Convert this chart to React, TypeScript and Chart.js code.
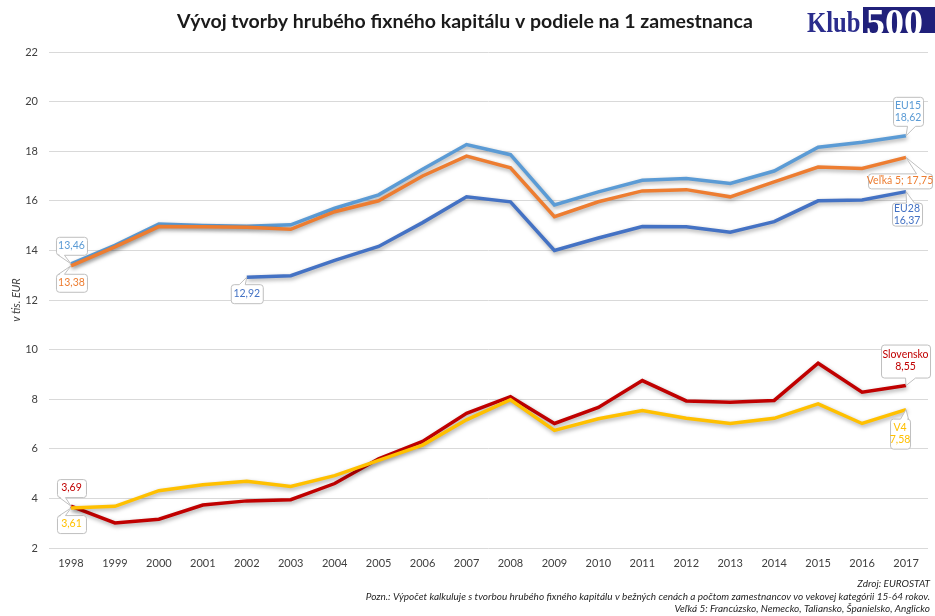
import React, { useEffect, useRef } from "react";
import { Chart, registerables } from "chart.js";

Chart.register(...registerables);

const years = ["1998","1999","2000","2001","2002","2003","2004","2005","2006","2007","2008","2009","2010","2011","2012","2013","2014","2015","2016","2017"];
const eu15 = [13.46,14.2,15.06,15.0,14.97,15.03,15.7,16.24,17.27,18.27,17.86,15.83,16.36,16.83,16.9,16.7,17.2,18.16,18.36,18.62];
const velka5 = [13.38,14.14,14.96,14.95,14.93,14.85,15.56,16.0,17.0,17.8,17.33,15.36,15.96,16.4,16.45,16.16,16.76,17.36,17.3,17.75];
const eu28 = [null,null,null,null,12.92,12.98,13.6,14.16,15.12,16.16,15.96,14.0,14.5,14.96,14.95,14.73,15.16,16.0,16.03,16.37];
const slovensko = [3.69,3.01,3.16,3.73,3.9,3.95,4.6,5.6,6.3,7.43,8.1,7.02,7.67,8.75,7.93,7.88,7.95,9.45,8.28,8.55];
const v4 = [3.61,3.68,4.31,4.55,4.69,4.48,4.92,5.53,6.15,7.17,7.98,6.74,7.21,7.54,7.23,7.02,7.23,7.81,7.02,7.58];

const title = "Vývoj tvorby hrubého fixného kapitálu v podiele na 1 zamestnanca";
const yTitle = "v tis. EUR";
const notes = [
  "Zdroj: EUROSTAT",
  "Pozn.: Výpočet kalkuluje s tvorbou hrubého fixného kapitálu v bežných cenách a počtom zamestnancov vo vekovej kategórii 15-64 rokov.",
  "Veľká 5: Francúzsko, Nemecko, Taliansko, Španielsko, Anglicko",
];

const C_EU15 = "#5B9BD5";
const C_V5 = "#ED7D31";
const C_EU28 = "#4472C4";
const C_SK = "#C00000";
const C_V4 = "#FFC000";

const fmt = (v: number) => v.toFixed(2).replace(".", ",");

type Callout = { ds: string; idx: number; lines: string[]; color: string; dx1: number; dx2: number; dy1: number; dy2: number; side: "top" | "bottom"; t1: number; t2: number };
const callouts: Callout[] = [
  { ds: "EU15", idx: 0, lines: [fmt(eu15[0])], color: C_EU15, dx1: -15, dx2: 16, dy1: -27, dy2: -9, side: "bottom", t1: 2, t2: 8 },
  { ds: "Veľká 5", idx: 0, lines: [fmt(velka5[0])], color: C_V5, dx1: -15, dx2: 16, dy1: 8, dy2: 26, side: "top", t1: 2, t2: 8 },
  { ds: "EU28", idx: 4, lines: [fmt(eu28[4] as number)], color: C_EU28, dx1: -16, dx2: 16, dy1: 7, dy2: 26, side: "top", t1: 8, t2: 14 },
  { ds: "EU15", idx: 19, lines: ["EU15", fmt(eu15[19])], color: C_EU15, dx1: -13, dx2: 17, dy1: -39, dy2: -10, side: "bottom", t1: 14, t2: 22 },
  { ds: "Veľká 5", idx: 19, lines: ["Veľká 5; " + fmt(velka5[19])], color: C_V5, dx1: -38, dx2: 26, dy1: 16, dy2: 31, side: "top", t1: 48, t2: 58 },
  { ds: "EU28", idx: 19, lines: ["EU28", fmt(eu28[19] as number)], color: C_EU28, dx1: -14, dx2: 16, dy1: 11, dy2: 34, side: "top", t1: 14, t2: 22 },
  { ds: "Slovensko", idx: 19, lines: ["Slovensko", fmt(slovensko[19])], color: C_SK, dx1: -25, dx2: 24, dy1: -41, dy2: -8, side: "bottom", t1: 24, t2: 34 },
  { ds: "V4", idx: 19, lines: ["V4", fmt(v4[19])], color: C_V4, dx1: -16, dx2: 4, dy1: 9, dy2: 39, side: "top", t1: 10, t2: 18 },
  { ds: "Slovensko", idx: 0, lines: [fmt(slovensko[0])], color: C_SK, dx1: -14, dx2: 15, dy1: -27, dy2: -9, side: "bottom", t1: 2, t2: 8 },
  { ds: "V4", idx: 0, lines: [fmt(v4[0])], color: C_V4, dx1: -14, dx2: 15, dy1: 7, dy2: 25, side: "top", t1: 2, t2: 8 },
];

const FONT = "Lato, 'Open Sans', sans-serif";

function calloutPath(ctx: CanvasRenderingContext2D, x1: number, y1: number, x2: number, y2: number, r: number, side: string, t1: number, t2: number, px: number, py: number) {
  ctx.beginPath();
  ctx.moveTo(x1 + r, y1);
  if (side === "top") {
    ctx.lineTo(x1 + t1, y1);
    ctx.lineTo(px, py);
    ctx.lineTo(x1 + t2, y1);
  }
  ctx.lineTo(x2 - r, y1);
  ctx.arcTo(x2, y1, x2, y1 + r, r);
  ctx.lineTo(x2, y2 - r);
  ctx.arcTo(x2, y2, x2 - r, y2, r);
  if (side === "bottom") {
    ctx.lineTo(x1 + t2, y2);
    ctx.lineTo(px, py);
    ctx.lineTo(x1 + t1, y2);
  }
  ctx.lineTo(x1 + r, y2);
  ctx.arcTo(x1, y2, x1, y2 - r, r);
  ctx.lineTo(x1, y1 + r);
  ctx.arcTo(x1, y1, x1 + r, y1, r);
  ctx.closePath();
}

const shadowPlugin = {
  id: "lineShadow",
  beforeDatasetDraw(chart: any) {
    const ctx = chart.ctx;
    ctx.save();
    ctx.shadowColor = "rgba(0,0,0,0.35)";
    ctx.shadowBlur = 4;
    ctx.shadowOffsetX = 1;
    ctx.shadowOffsetY = 2;
  },
  afterDatasetDraw(chart: any) {
    chart.ctx.restore();
  },
};

const decorPlugin = {
  id: "decor",
  afterDraw(chart: any) {
    const ctx: CanvasRenderingContext2D = chart.ctx;
    ctx.save();
    // title
    ctx.fillStyle = "#1a1a1a";
    ctx.font = "bold 19.5px " + FONT;
    ctx.textAlign = "center";
    ctx.textBaseline = "middle";
    ctx.fillText(title, 465, 22);

    // logo
    ctx.fillStyle = "#2A2C8C";
    ctx.font = "bold 30px 'Liberation Serif', 'DejaVu Serif', serif";
    ctx.textAlign = "left";
    ctx.textBaseline = "alphabetic";
    ctx.save();
    ctx.translate(807, 32);
    ctx.scale(0.82, 1);
    ctx.fillText("Klub", 0, 0);
    ctx.restore();
    ctx.fillStyle = "#20207A";
    ctx.fillRect(863, 7, 72, 26);
    ctx.fillStyle = "#ffffff";
    ctx.font = "bold 38px 'Liberation Serif', 'DejaVu Serif', serif";
    ctx.save();
    ctx.translate(866, 35);
    ctx.scale(1.0, 1);
    ctx.fillText("500", 0, 0);
    ctx.restore();

    // y title
    ctx.save();
    ctx.translate(16, 300);
    ctx.rotate(-Math.PI / 2);
    ctx.fillStyle = "#404040";
    ctx.font = "italic 11px " + FONT;
    ctx.textAlign = "center";
    ctx.textBaseline = "middle";
    ctx.fillText(yTitle, 0, 0);
    ctx.restore();

    // notes
    ctx.fillStyle = "#262626";
    ctx.font = "italic 10px " + FONT;
    ctx.textAlign = "right";
    ctx.textBaseline = "middle";
    const ny = [584, 597, 609];
    notes.forEach((t, i) => ctx.fillText(t, 930, ny[i]));

    // callouts
    const byLabel: Record<string, number> = {};
    chart.data.datasets.forEach((d: any, i: number) => (byLabel[d.label] = i));
    callouts.forEach((c) => {
      const meta = chart.getDatasetMeta(byLabel[c.ds]);
      const el = meta.data[c.idx];
      if (!el) return;
      const px = el.x, py = el.y;
      const x1 = px + c.dx1, x2 = px + c.dx2, y1 = py + c.dy1, y2 = py + c.dy2;
      calloutPath(ctx, x1 + 0.5, y1 + 0.5, x2 + 0.5, y2 + 0.5, 3, c.side, c.t1, c.t2, px, py);
      ctx.fillStyle = "#ffffff";
      ctx.fill();
      ctx.strokeStyle = "#BFBFBF";
      ctx.lineWidth = 1;
      ctx.stroke();
      ctx.fillStyle = c.color;
      ctx.font = "10.5px " + FONT;
      ctx.textAlign = "center";
      ctx.textBaseline = "middle";
      const cx = (x1 + x2) / 2;
      const cy = (y1 + y2) / 2;
      const lh = 12;
      c.lines.forEach((l, i) => {
        ctx.fillText(l, cx, cy + (i - (c.lines.length - 1) / 2) * lh);
      });
    });
    ctx.restore();
  },
};

export default function App() {
  const ref = useRef<HTMLCanvasElement | null>(null);
  useEffect(() => {
    const canvas = ref.current;
    if (!canvas) return;
    const mk = (label: string, data: any[], color: string) => ({
      label,
      data,
      borderColor: color,
      backgroundColor: color,
      borderWidth: 3.5,
      pointRadius: 0,
      tension: 0,
      fill: false,
    });
    const chart = new Chart(canvas, {
      type: "line",
      data: {
        labels: years,
        datasets: [
          mk("V4", v4, C_V4),
          mk("Slovensko", slovensko, C_SK),
          mk("Veľká 5", velka5, C_V5),
          mk("EU15", eu15, C_EU15),
          mk("EU28", eu28, C_EU28),
        ],
      },
      options: {
        animation: false,
        responsive: false,
        maintainAspectRatio: false,
        layout: { padding: { left: 0, right: 7, top: 52, bottom: 38 } },
        plugins: { legend: { display: false }, tooltip: { enabled: false }, title: { display: false } },
        scales: {
          x: {
            offset: true,
            grid: { display: false, drawTicks: false },
            border: { display: false },
            ticks: { color: "#404040", font: { family: FONT, size: 11 }, padding: 9, maxRotation: 0, autoSkip: false },
            afterFit: (s: any) => { s.height = 30; },
          },
          y: {
            min: 2,
            max: 22,
            ticks: { stepSize: 2, color: "#404040", font: { family: FONT, size: 11 }, padding: 11 },
            grid: { color: "#D9D9D9", lineWidth: 1, drawTicks: false },
            border: { display: false },
            afterFit: (s: any) => { s.width = 49; },
          },
        },
      },
      plugins: [shadowPlugin, decorPlugin],
    } as any);
    return () => chart.destroy();
  }, []);
  return (
    <div style={{ position: "absolute", left: 0, top: 0, width: 935, height: 616, background: "#fff" }}>
      <canvas ref={ref} width={935} height={616} style={{ width: 935, height: 616 }} />
    </div>
  );
}
